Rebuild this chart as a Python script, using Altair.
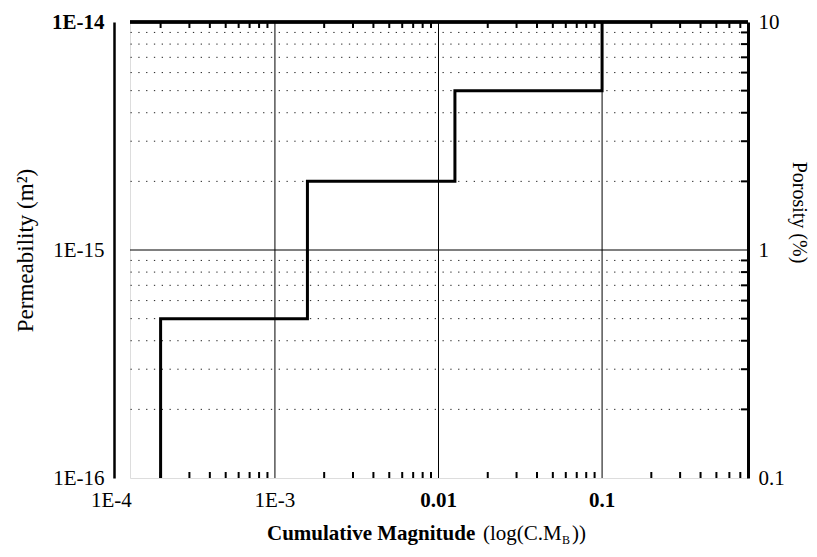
import altair as alt
import pandas as pd

# ---- data ----
step_x = [2e-4, 1.58e-3, 1.26e-2, 0.1]            # cumulative magnitude where permeability jumps
perm_levels = [1e-16, 5e-16, 2e-15, 5e-15, 1e-14]  # permeability before/after each jump (m^2)

x_label_vals = [1e-4, 1e-3, 1e-2, 1e-1]
x_label_text = ["1E-4", "1E-3", "0.01", "0.1"]
x_label_weight = ["normal", "normal", "bold", "bold"]
x_major = [1e-3, 1e-2, 1e-1]
y_major = [1e-16, 1e-15, 1e-14]
y_major_labels = ["1E-16", "1E-15", "1E-14"]
por_labels = ["0.1", "1", "10"]
mults = [2, 3, 4, 5, 6, 7, 8, 9]
x_decades = [1e-4, 1e-3, 1e-2, 1e-1]
y_decades = [1e-16, 1e-15]

X_DOMAIN = [1.3e-4, 0.78]
Y_DOMAIN = [1e-16, 1e-14]
W, H = 618, 456
FONT = "Liberation Serif"

# ---- tables ----
verts = []
for i, xv in enumerate(step_x):
    verts.append({"x": xv, "y": perm_levels[i]})
    verts.append({"x": xv, "y": perm_levels[i + 1]})
step_df = pd.DataFrame(verts).reset_index().rename(columns={"index": "o"})

minor_x = [m * d for d in x_decades for m in mults if X_DOMAIN[0] <= m * d <= X_DOMAIN[1]]
minor_y = [m * d for d in y_decades for m in mults]
minx_df = pd.DataFrame({"x": minor_x})
miny_df = pd.DataFrame({"y": minor_y})
xmaj_df = pd.DataFrame({"x": x_major})
mid_df = pd.DataFrame({"y": [y_major[1]]})
xlab_df = pd.DataFrame({"x": x_label_vals, "t": x_label_text, "w": x_label_weight})

xs = alt.Scale(type="log", domain=X_DOMAIN, nice=False)
ys = alt.Scale(type="log", domain=Y_DOMAIN, nice=False)

# dotted minor horizontal grid
dotted = alt.Chart(miny_df).mark_rule(color="#222", strokeWidth=1, strokeDash=[1.3, 6.5]).encode(
    y=alt.Y("y:Q", scale=ys, axis=None)
)
# solid 1E-15 line
mid = alt.Chart(mid_df).mark_rule(color="black", strokeWidth=1).encode(
    y=alt.Y("y:Q", scale=ys, axis=None)
)
# vertical major grid lines
vgrid = alt.Chart(xmaj_df).mark_rule(color="black", strokeWidth=1).encode(
    x=alt.X("x:Q", scale=xs, axis=None)
)
# inward minor ticks, top and bottom
top_ticks = alt.Chart(minx_df).mark_rule(color="black", strokeWidth=2).encode(
    x=alt.X("x:Q", scale=xs, axis=None), y=alt.value(0), y2=alt.value(6)
)
bot_ticks = alt.Chart(minx_df).mark_rule(color="black", strokeWidth=2).encode(
    x=alt.X("x:Q", scale=xs, axis=None), y=alt.value(H), y2=alt.value(H - 6)
)
right_ticks = alt.Chart(miny_df).mark_rule(color="black", strokeWidth=2).encode(
    y=alt.Y("y:Q", scale=ys, axis=None), x=alt.value(W), x2=alt.value(W - 7)
)
top_line = alt.Chart(xmaj_df).mark_rule(color="black", strokeWidth=3).encode(
    x=alt.value(0), x2=alt.value(W), y=alt.value(0)
)

# step curve + main axes
step = alt.Chart(step_df).mark_line(color="black", strokeWidth=3, strokeJoin="miter").encode(
    x=alt.X("x:Q", scale=xs, axis=alt.Axis(
        labels=False, grid=False, ticks=False, tickSize=0, domainWidth=3, domainColor="black",
        title=None)),
    y=alt.Y("y:Q", scale=ys, axis=alt.Axis(
        orient="left", offset=16, values=y_major,
        labelExpr="'1E-' + round(-log(datum.value)/LN10)",
        grid=False, ticks=False, tickSize=0, domainWidth=2.5, domainColor="black",
        labelFont=FONT, labelFontSize=21, labelColor="black", labelPadding=10,
        labelFontWeight={"condition": {"test": "datum.value > 5e-15", "value": "bold"}, "value": "normal"},
        title="Permeability  (m²)", titleFont=FONT, titleFontSize=23, titleFontWeight="normal",
        titleColor="black", titlePadding=14)),
    order="o:Q",
)

# right (porosity) axis on the same scale
right_axis = alt.Chart(mid_df).mark_rule(opacity=0).encode(
    y=alt.Y("y:Q", scale=ys, axis=alt.Axis(
        orient="right", values=y_major,
        labelExpr="datum.value > 5e-15 ? '10' : (datum.value > 5e-16 ? '1' : '0.1')",
        grid=False, ticks=False, tickSize=0, domainWidth=3, domainColor="black",
        labelFont=FONT, labelFontSize=21, labelColor="black", labelPadding=10,
        labelBaseline="middle", labelAlign="left",
        title="Porosity (%)", titleFont=FONT, titleFontSize=20, titleFontWeight="normal",
        titleColor="black", titleAngle=90, titlePadding=4, titleY=190)),
)

# x tick labels (1E-4 sits left of the frame); two weights
def xlab_layer(weight):
    return alt.Chart(xlab_df).transform_filter(
        alt.datum.w == weight
    ).mark_text(
        font=FONT, fontSize=21, fontWeight=weight, baseline="top", align="center", color="black"
    ).encode(x=alt.X("x:Q", scale=xs, axis=None), y=alt.value(H + 12), text="t:N")

xlab_reg = xlab_layer("normal")
xlab_bold = xlab_layer("bold")

# x-axis title with subscript
t1 = alt.Chart(pd.DataFrame({"t": ["Cumulative Magnitude"]})).mark_text(
    font=FONT, fontSize=21, fontWeight="bold", align="left", baseline="alphabetic", color="black"
).encode(x=alt.value(137), y=alt.value(H + 62), text="t:N")
t2 = alt.Chart(pd.DataFrame({"t": ["(log(C.M"]})).mark_text(
    font=FONT, fontSize=21, align="left", baseline="alphabetic", color="black"
).encode(x=alt.value(353), y=alt.value(H + 62), text="t:N")
t3 = alt.Chart(pd.DataFrame({"t": ["B"]})).mark_text(
    font=FONT, fontSize=12, align="left", baseline="alphabetic", color="black"
).encode(x=alt.value(432), y=alt.value(H + 66), text="t:N")
t4 = alt.Chart(pd.DataFrame({"t": ["))"]})).mark_text(
    font=FONT, fontSize=21, align="left", baseline="alphabetic", color="black"
).encode(x=alt.value(442), y=alt.value(H + 62), text="t:N")

chart = alt.layer(
    dotted, mid, vgrid, top_ticks, bot_ticks, right_ticks, top_line, step, right_axis,
    xlab_reg, xlab_bold, t1, t2, t3, t4
).resolve_axis(y="independent").properties(
    width=W, height=H,
    autosize=alt.AutoSizeParams(type="none"),
    padding={"left": 122, "top": 14, "right": 61, "bottom": 67},
).configure_view(stroke=None).configure(background="white")

chart.save("out.html", embed_options={"renderer": "svg", "actions": False})
